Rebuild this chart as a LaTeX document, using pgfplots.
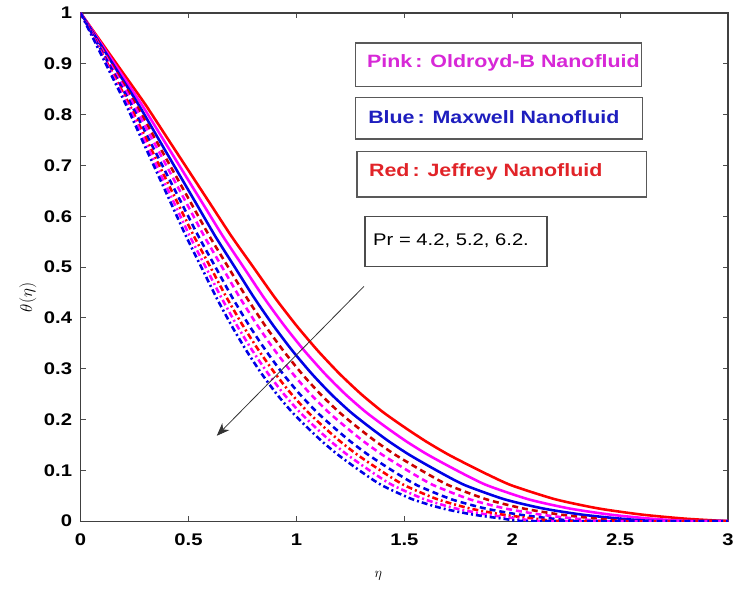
\documentclass[border=0pt]{standalone}
\usepackage{pgfplots}
\pgfplotsset{compat=1.18}
\usepackage{pgfplotstable}
\usepackage{fontspec}
\setmainfont{Liberation Sans}
\newfontfamily\widefont[FakeStretch=1.2]{Liberation Sans}
\usetikzlibrary{arrows.meta}
\definecolor{mred}{RGB}{255,0,0}
\definecolor{mpink}{RGB}{255,0,255}
\definecolor{mblue}{RGB}{0,0,230}
\definecolor{tpink}{RGB}{215,40,215}
\definecolor{tblue}{RGB}{30,30,190}
\definecolor{tred}{RGB}{225,35,40}
\pgfplotstableread{
t a b c d e f g h i
1 0 0 0 0 0 0 0 0 0
0.94 0.1 .0943 .0893 .0855 .0820 .0781 .0752 .0725 .0699
0.88 0.2 .1887 .1786 .1709 .1639 .1563 .1504 .1449 .1399
0.82 0.3 .2830 .2679 .2564 .2459 .2344 .2256 .2174 .2098
0.755 0.4 .3774 .3571 .3419 .3279 .3125 .3008 .2899 .2797
0.69 0.5 .4717 .4464 .4274 .4098 .3906 .3759 .3623 .3497
0.625 0.6 .5660 .5357 .5128 .4918 .4688 .4511 .4348 .4196
0.56 0.7 .6604 .6250 .5983 .5738 .5469 .5263 .5072 .4895
0.50 0.8 .7547 .7143 .6838 .6557 .6250 .6015 .5797 .5594
0.44 0.9 .8491 .8036 .7692 .7377 .7031 .6767 .6522 .6294
0.385 1.0 .9434 .8929 .8547 .8197 .7813 .7519 .7246 .6993
0.335 1.1 1.0377 .9821 .9402 .9016 .8594 .8271 .7971 .7692
0.29 1.2 1.1321 1.0714 1.0256 .9836 .9375 .9023 .8696 .8392
0.25 1.3 1.2264 1.1607 1.1111 1.0656 1.0156 .9774 .9420 .9091
0.215 1.4 1.3208 1.25 1.1966 1.1475 1.0938 1.0526 1.0145 .9790
0.185 1.5 1.4151 1.3393 1.2821 1.2295 1.1719 1.1278 1.0870 1.0490
0.157 1.6 1.5094 1.4286 1.3675 1.3115 1.25 1.2030 1.1594 1.1189
0.132 1.7 1.6038 1.5179 1.4530 1.3934 1.3281 1.2782 1.2319 1.1888
0.11 1.8 1.6981 1.6071 1.5385 1.4754 1.4063 1.3534 1.3043 1.2587
0.089 1.9 1.7925 1.6964 1.6239 1.5574 1.4844 1.4286 1.3768 1.3287
0.07 2.0 1.8868 1.7857 1.7094 1.6393 1.5625 1.5038 1.4493 1.3986
0.043 2.2 2.0755 1.9643 1.8803 1.8033 1.7188 1.6541 1.5942 1.5385
0.025 2.4 2.2642 2.1429 2.0513 1.9672 1.875 1.8045 1.7391 1.6783
0.013 2.6 2.4528 2.3214 2.2222 2.1311 2.0313 1.9549 1.8841 1.8182
0.005 2.8 2.6415 2.5 2.3932 2.2951 2.1875 2.1053 2.0290 1.9580
0.0 3.0 2.8302 2.6786 2.5641 2.4590 2.3438 2.2556 2.1739 2.0979
0.0 3 3 3 3 3 3 3 3 3
}\data
\begin{document}
\begin{tikzpicture}
\begin{axis}[
  scale only axis, width=651bp, height=511bp,
  xmin=0, xmax=3, ymin=0, ymax=1,
  xtick={0,0.5,...,3}, ytick={0,0.1,...,1},
  xticklabels={0,0.5,1,1.5,2,2.5,3},
  yticklabels={0,0.1,0.2,0.3,0.4,0.5,0.6,0.7,0.8,0.9,1},
  tick align=inside, major tick length=5bp,
  tick style={black!70, line width=0.8pt},
  axis line style={black!75, line width=1.3pt},
  ticklabel style={font=\fontsize{17}{19}\selectfont\widefont\bfseries},
  xticklabel style={yshift=-9bp},
  yticklabel style={xshift=-5bp},
  xlabel={$\eta$}, ylabel={$\theta(\eta)$},
  xlabel style={font=\fontsize{15}{17}\selectfont, at={(axis description cs:0.46,0)}, anchor=north, yshift=-47bp},
  ylabel style={font=\fontsize{17}{19}\selectfont, at={(axis description cs:0,0.44)}, anchor=south, yshift=41bp},
  clip=true,
]
\addplot[mred, line width=2.6pt, smooth, tension=0.4] table[x=a,y=t]{\data};
\addplot[mpink, line width=2.6pt, smooth, tension=0.4] table[x=b,y=t]{\data};
\addplot[mblue, line width=2.6pt, smooth, tension=0.4] table[x=c,y=t]{\data};
\addplot[mred!80!black, line width=2.6pt, smooth, tension=0.4, dash pattern=on 6bp off 4bp] table[x=d,y=t]{\data};
\addplot[mpink, line width=2.6pt, smooth, tension=0.4, dash pattern=on 6bp off 4bp] table[x=e,y=t]{\data};
\addplot[mblue, line width=2.6pt, smooth, tension=0.4, dash pattern=on 6bp off 4bp] table[x=f,y=t]{\data};
\addplot[mred, line width=2.6pt, smooth, tension=0.4, dash pattern=on 6bp off 3bp on 2bp off 3bp] table[x=g,y=t]{\data};
\addplot[mpink, line width=2.6pt, smooth, tension=0.4, dash pattern=on 6bp off 3bp on 2bp off 3bp] table[x=h,y=t]{\data};
\addplot[mblue, line width=2.6pt, smooth, tension=0.4, dash pattern=on 6bp off 3bp on 2bp off 3bp] table[x=i,y=t]{\data};
\draw[black!65, line width=1.2pt, fill=white] (axis cs:1.272,0.941) rectangle (axis cs:2.600,0.855);
\node[anchor=west, inner sep=0pt, text=tpink, font=\fontsize{18}{20}\selectfont\widefont\bfseries] at (axis cs:1.327,0.902) {Pink\,: Oldroyd-B Nanofluid};
\draw[black!65, line width=1.2pt, fill=white] (axis cs:1.272,0.834) rectangle (axis cs:2.604,0.752);
\node[anchor=west, inner sep=0pt, text=tblue, font=\fontsize{18}{20}\selectfont\widefont\bfseries] at (axis cs:1.332,0.795) {Blue\,: Maxwell Nanofluid};
\draw[black!65, line width=1.2pt, fill=white] (axis cs:1.281,0.727) rectangle (axis cs:2.622,0.638);
\node[anchor=west, inner sep=0pt, text=tred, font=\fontsize{18}{20}\selectfont\widefont\bfseries] at (axis cs:1.336,0.687) {Red\,: Jeffrey Nanofluid};
\draw[black!70, line width=1.2pt, fill=white] (axis cs:1.318,0.600) rectangle (axis cs:2.161,0.501);
\node[anchor=west, inner sep=0pt, text=black, font=\fontsize{17}{19}\selectfont\widefont] at (axis cs:1.355,0.552) {Pr = 4.2, 5.2, 6.2.};
\draw[black!80, line width=0.8pt, -{Stealth[length=13bp, width=10bp, inset=4bp]}] (axis cs:1.313,0.462) -- (axis cs:0.631,0.168);
\coordinate (bl) at (rel axis cs:0,0);
\coordinate (tr) at (rel axis cs:1,1);
\end{axis}
\path ([shift={(-81bp,-68bp)}]bl) rectangle ([shift={(5bp,13bp)}]tr);
\end{tikzpicture}
\end{document}
